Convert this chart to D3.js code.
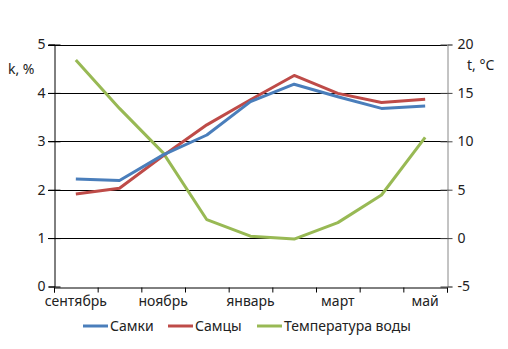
<!DOCTYPE html>
<html>
<head>
<meta charset="utf-8">
<script src="https://cdn.jsdelivr.net/npm/d3@7"></script>
<style>
  html, body { margin: 0; padding: 0; background: #fff; }
  svg text { font-family: "Noto Sans", "Open Sans", sans-serif; fill: #222; }
</style>
</head>
<body>
<svg id="chart" width="508" height="349"></svg>
<script>
// Months from September to May
const months = ["сентябрь", "октябрь", "ноябрь", "декабрь", "январь", "февраль", "март", "апрель", "май"];
// k, % for females and males
const females = [2.22, 2.19, 2.72, 3.13, 3.82, 4.18, 3.92, 3.68, 3.73];
const males = [1.91, 2.03, 2.70, 3.34, 3.86, 4.36, 3.99, 3.80, 3.87];
// Water temperature, °C
const waterTemp = [18.4, 13.4, 8.8, 1.9, 0.2, -0.1, 1.6, 4.45, 10.4];

const leftTicks = [0, 1, 2, 3, 4, 5];
const rightTicks = [-5, 0, 5, 10, 15, 20];
const seriesNames = ["Самки", "Самцы", "Температура воды"];
const colors = ["#4a7ebb", "#be4b48", "#98b954"];

const svg = d3.select("#chart");
const plotLeft = 54, plotRight = 447, plotTop = 44.5, plotBottom = 286.5;

// Category boundaries on a linear scale; points sit at band centres
const xb = d3.scaleLinear().domain([0, months.length]).range([plotLeft, plotRight]);
const xc = i => xb(i + 0.5);
const yL = d3.scaleLinear().domain([0, 5]).range([plotBottom, plotTop]);
const yR = d3.scaleLinear().domain([-5, 20]).range([plotBottom, plotTop]);
const plain = d => String(d);

// Horizontal gridlines (extend left as tick marks)
svg.append("g").selectAll("line").data(leftTicks.filter(d => d > 0)).join("line")
  .attr("x1", plotLeft - 6).attr("x2", plotRight)
  .attr("y1", d => Math.round(yL(d)) + 0.5).attr("y2", d => Math.round(yL(d)) + 0.5)
  .attr("stroke", "#000").attr("stroke-width", 1);

// Left axis
const gl = svg.append("g").attr("transform", `translate(${plotLeft + 0.5},0)`)
  .call(d3.axisLeft(yL).tickValues(leftTicks).tickFormat(plain).tickSize(6).tickPadding(3));
gl.select(".domain").attr("stroke", "#000");
gl.selectAll(".tick line").attr("x2", -6).attr("x1", 6).attr("stroke", "#000");
gl.selectAll(".tick text").attr("x", -9).attr("font-size", 14).attr("font-family", null);

// Right axis
const gr = svg.append("g").attr("transform", `translate(${plotRight + 0.5},0)`)
  .call(d3.axisRight(yR).tickValues(rightTicks).tickFormat(plain).tickSize(5).tickPadding(3));
gr.select(".domain").attr("stroke", "#888");
gr.selectAll(".tick line").attr("x1", -7).attr("x2", 5).attr("stroke", "#444");
gr.selectAll(".tick text").attr("x", 10).attr("font-size", 14).attr("font-family", null);

// Bottom axis with ticks at category boundaries
const gb = svg.append("g").attr("transform", `translate(0,${Math.round(plotBottom) + 0.5})`)
  .call(d3.axisBottom(xb).tickValues(d3.range(0, months.length + 1)).tickSize(5).tickFormat(""));
gb.select(".domain").attr("stroke", "#000");
gb.selectAll(".tick line").attr("stroke", "#000");

// Month labels on every other category
svg.append("g").selectAll("text").data(months.map((m, i) => ({ m, i })).filter(d => d.i % 2 === 0)).join("text")
  .attr("x", d => xc(d.i)).attr("y", 306)
  .attr("text-anchor", "middle").attr("font-size", 14)
  .text(d => d.m);

// Axis titles
svg.append("text").attr("x", 8).attr("y", 74).attr("font-size", 14).text("k, %");
svg.append("text").attr("x", 467).attr("y", 70).attr("font-size", 14).text("t, °C");

// Data lines
const lineL = d3.line().x((d, i) => xc(i)).y(d => yL(d));
const lineR = d3.line().x((d, i) => xc(i)).y(d => yR(d));
svg.append("path").datum(waterTemp).attr("d", lineR)
  .attr("fill", "none").attr("stroke", colors[2]).attr("stroke-width", 3).attr("stroke-linejoin", "round");
svg.append("path").datum(males).attr("d", lineL)
  .attr("fill", "none").attr("stroke", colors[1]).attr("stroke-width", 3).attr("stroke-linejoin", "round");
svg.append("path").datum(females).attr("d", lineL)
  .attr("fill", "none").attr("stroke", colors[0]).attr("stroke-width", 3).attr("stroke-linejoin", "round");

// Legend
const legendX = [83, 168, 257];
const lg = svg.append("g").selectAll("g").data(seriesNames).join("g")
  .attr("transform", (d, i) => `translate(${legendX[i]},326)`);
lg.append("line").attr("x1", 0).attr("x2", 25).attr("y1", 0).attr("y2", 0)
  .attr("stroke", (d, i) => colors[i]).attr("stroke-width", 3);
lg.append("text").attr("x", 27).attr("y", 5).attr("font-size", 14).text(d => d);
</script>
</body>
</html>
